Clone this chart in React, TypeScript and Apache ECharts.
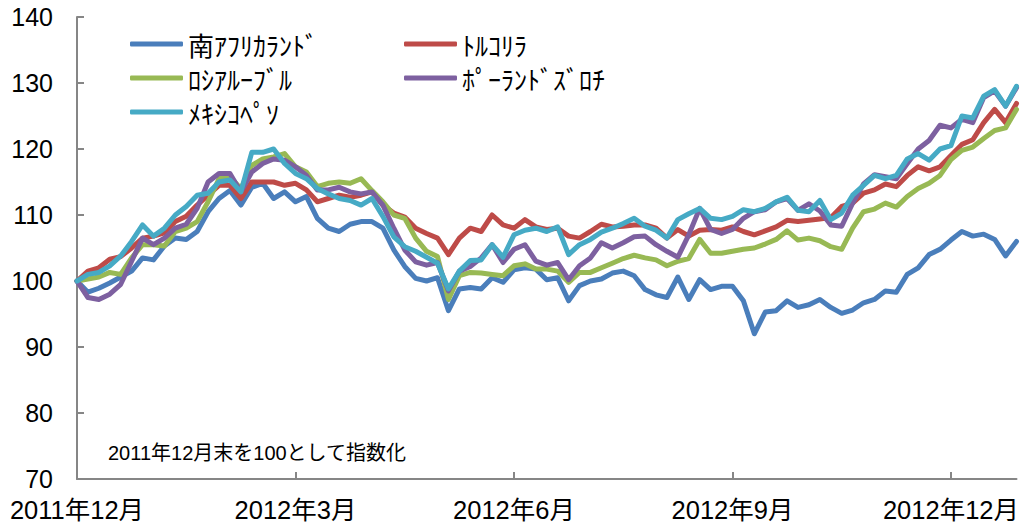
import React, { useEffect, useRef } from "react";
import * as echarts from "echarts";

const tickLabels = ["2011年12月", "2012年3月", "2012年6月", "2012年9月", "2012年12月"];
const pointsPerQuarter = 20;

const seriesNames = ["南ｱﾌﾘｶﾗﾝﾄﾞ", "ﾄﾙｺﾘﾗ", "ﾛｼｱﾙｰﾌﾞﾙ", "ﾎﾟｰﾗﾝﾄﾞｽﾞﾛﾁ", "ﾒｷｼｺﾍﾟｿ"];
const seriesColors = ["#4A7EBB", "#BE4B48", "#98B954", "#7D60A0", "#46AAC5"];

const zar = [
  100, 98.3, 98.9, 99.7, 100.6, 101.5, 103.5, 103.2, 105.3, 106.5,
  106.3, 107.5, 110.5, 112.5, 113.7, 111.5, 114.2, 114.8, 112.5, 113.5,
  112, 112.8, 109.5, 108, 107.5, 108.6, 109, 109, 108, 104.7,
  102.2, 100.4, 100, 100.5, 95.5, 98.8, 99, 98.8, 100.5, 99.8,
  101.7, 102, 101.8, 100.2, 100.5, 97, 99.3, 100, 100.3, 101.2,
  101.5, 100.8, 98.7, 97.9, 97.5, 100.6, 97.2, 100.2, 98.7, 99.2,
  99.2, 97, 92, 95.3, 95.5, 97, 96, 96.4, 97.2, 96,
  95.1, 95.6, 96.7, 97.2, 98.5, 98.3, 101, 102, 104, 104.8,
  106.2, 107.5, 106.8, 107.1, 106.3, 103.8, 106,
];
const tryl = [
  100, 101.5, 102, 103.3, 103.7, 105, 106.5, 106.8, 107.3, 109,
  109.8, 111.5, 113, 114.5, 114.5, 112.5, 115, 115, 115, 114.5,
  114.8, 113.8, 112, 112.5, 113, 112.7, 113, 113.5, 111.5, 110.3,
  109.7, 108, 107.2, 106.5, 104, 106.5, 108, 107.5, 110, 108.5,
  108, 109.3, 108.2, 107.8, 108, 106.8, 106.5, 107.5, 108.6, 108.2,
  108.3, 108.5, 108.5, 108, 106.5, 107.8, 106.8, 107.7, 107.8, 107.7,
  108.2, 107.5, 107, 107.6, 108.2, 109.2, 109, 109.2, 109.4, 109.6,
  111.3, 111.8, 113.3, 113.8, 114.7, 114.3, 116, 117.3, 116.7, 117.3,
  119, 120.7, 121.4, 124, 126, 124, 126.9,
];
const rub = [
  100, 100.3, 100.6, 101.3, 101, 103.5, 105.5, 105.5, 105.3, 107.5,
  108, 109, 112, 115.5, 115.8, 114, 117.5, 118.5, 118.8, 119.3,
  117.3, 116.5, 114.3, 114.8, 115, 114.8, 115.5, 113.7, 112, 110,
  109.5, 106.5, 104.5, 103.7, 97.2, 100.8, 101.3, 101.2, 101, 100.8,
  102.3, 102.6, 101.8, 101.8, 101.5, 99.8, 101.3, 101.3, 102, 102.7,
  103.4, 103.9, 103.5, 103.2, 102.3, 103, 103.4, 106.3, 104.2, 104.2,
  104.5, 104.8, 105, 105.6, 106.3, 107.6, 106.2, 106.5, 106.1, 105.2,
  104.8, 108, 110.5, 110.9, 111.8, 111.2, 112.8, 114, 114.8, 116,
  118.4, 119.8, 120.3, 121.6, 122.8, 123.2, 126,
];
const pln = [
  100, 97.5, 97.2, 98, 99.5, 103, 106.5, 105.5, 106.5, 108,
  108.6, 111, 115, 116.3, 116.3, 113.5, 116.5, 117.8, 118.5, 118.3,
  117.3, 116, 113.8, 113.8, 114.2, 113.5, 113.2, 113.5, 111.5, 108,
  104.7, 102.9, 102.4, 102.8, 98.5, 101.5, 102.2, 103.5, 105.5, 102.8,
  104.8, 105.5, 103, 102.4, 102.8, 100.2, 102.3, 103.5, 105.8, 105,
  105.8, 106.7, 106.8, 105.5, 104.5, 103.6, 107, 111, 107.8, 107.2,
  107.8, 109.5, 110.5, 110.8, 112, 112.5, 110.7, 111.7, 110.6, 108.5,
  108.3, 111.8, 114.7, 116.1, 115.8, 115.5, 117.8, 120, 121.3, 123.6,
  123.2, 124.5, 124, 127.8, 128.8, 126.5, 129.3,
];
const mxn = [
  100, 101, 101.3, 102.3, 103.8, 106, 108.5, 106.8, 108, 110,
  111.3, 113, 113.3, 115, 115.3, 113.5, 119.5, 119.5, 120, 117.8,
  116.3, 115.5, 114, 113.2, 112.5, 112.2, 111.5, 112.5, 109.8, 106.7,
  105.2, 104.5, 103.6, 102.7, 98.8, 101.5, 103.1, 103.2, 105.5, 103.6,
  107, 107.7, 108, 107.5, 108.2, 104, 105.5, 106.3, 107.4, 108,
  108.7, 109.5, 108.3, 107.7, 106.5, 109.3, 110.2, 111, 109.5, 109.3,
  109.8, 110.8, 110.5, 111, 112, 112.7, 110.7, 110.5, 112.2, 109.3,
  110.3, 113, 114.5, 116, 115.5, 116, 118.5, 119.3, 118.3, 120,
  120.5, 125, 124.7, 128, 129, 126.5, 129.5,
];

const seriesValues = [zar, tryl, rub, pln, mxn];
const categories = zar.map((_, i) => String(i));

const latin = "'Liberation Sans', Arial, 'Noto Sans CJK JP', sans-serif";
const jp = "'Noto Sans CJK JP', sans-serif";

export default function App() {
  const ref = useRef<HTMLDivElement>(null);
  useEffect(() => {
    if (!ref.current) return;
    const chart = echarts.init(ref.current, undefined, { renderer: "svg" });
    const isTick = (index: number) => index % pointsPerQuarter === 0;
    const legendCommon = {
      orient: "vertical" as const,
      padding: 0,
      icon: "roundRect",
      itemWidth: 53,
      itemHeight: 5,
      itemGap: 8,
      textStyle: { fontSize: 26, fontFamily: jp, color: "#000", lineHeight: 24 },
      selectedMode: false,
    };
    chart.setOption({
      animation: false,
      backgroundColor: "#fff",
      grid: { left: 77, right: 3, top: 17, bottom: 48, containLabel: false },
      legend: [
        { ...legendCommon, left: 130, top: 31, data: [seriesNames[0], seriesNames[2], seriesNames[4]] },
        { ...legendCommon, left: 404, top: 31, data: [seriesNames[1], seriesNames[3]] },
      ],
      xAxis: {
        type: "category",
        data: categories,
        boundaryGap: false,
        axisLine: { lineStyle: { color: "#868686", width: 2 } },
        axisTick: {
          inside: true,
          length: 7,
          interval: (index: number) => isTick(index),
          lineStyle: { color: "#868686", width: 2 },
        },
        axisLabel: {
          interval: (index: number) => isTick(index),
          formatter: (_v: string, index: number) => tickLabels[index / pointsPerQuarter] ?? "",
          fontSize: 25.5,
          fontFamily: latin,
          color: "#000",
          margin: 18,
        },
        splitLine: { show: false },
      },
      yAxis: {
        type: "value",
        min: 70,
        max: 140,
        interval: 10,
        axisLine: { show: true, lineStyle: { color: "#868686", width: 2 } },
        axisTick: { show: true, inside: true, length: 7, lineStyle: { color: "#868686", width: 2 } },
        axisLabel: { fontSize: 25, fontFamily: latin, color: "#000", margin: 24 },
        splitLine: { show: false },
      },
      series: seriesNames.map((name, k) => ({
        name,
        type: "line",
        data: seriesValues[k],
        symbol: "none",
        showSymbol: false,
        color: seriesColors[k],
        lineStyle: { width: 5, color: seriesColors[k], cap: "round", join: "round" },
        emphasis: { disabled: true },
        z: 2 + k,
      })),
      graphic: [
        {
          type: "text",
          left: 108,
          top: 443,
          style: {
            text: "2011年12月末を100として指数化",
            font: `20px ${latin}`,
            fill: "#000",
          },
        },
      ],
    });
    return () => chart.dispose();
  }, []);
  return (
    <div
      ref={ref}
      style={{ position: "fixed", left: 0, top: 0, width: 1022, height: 527, background: "#fff" }}
    />
  );
}
